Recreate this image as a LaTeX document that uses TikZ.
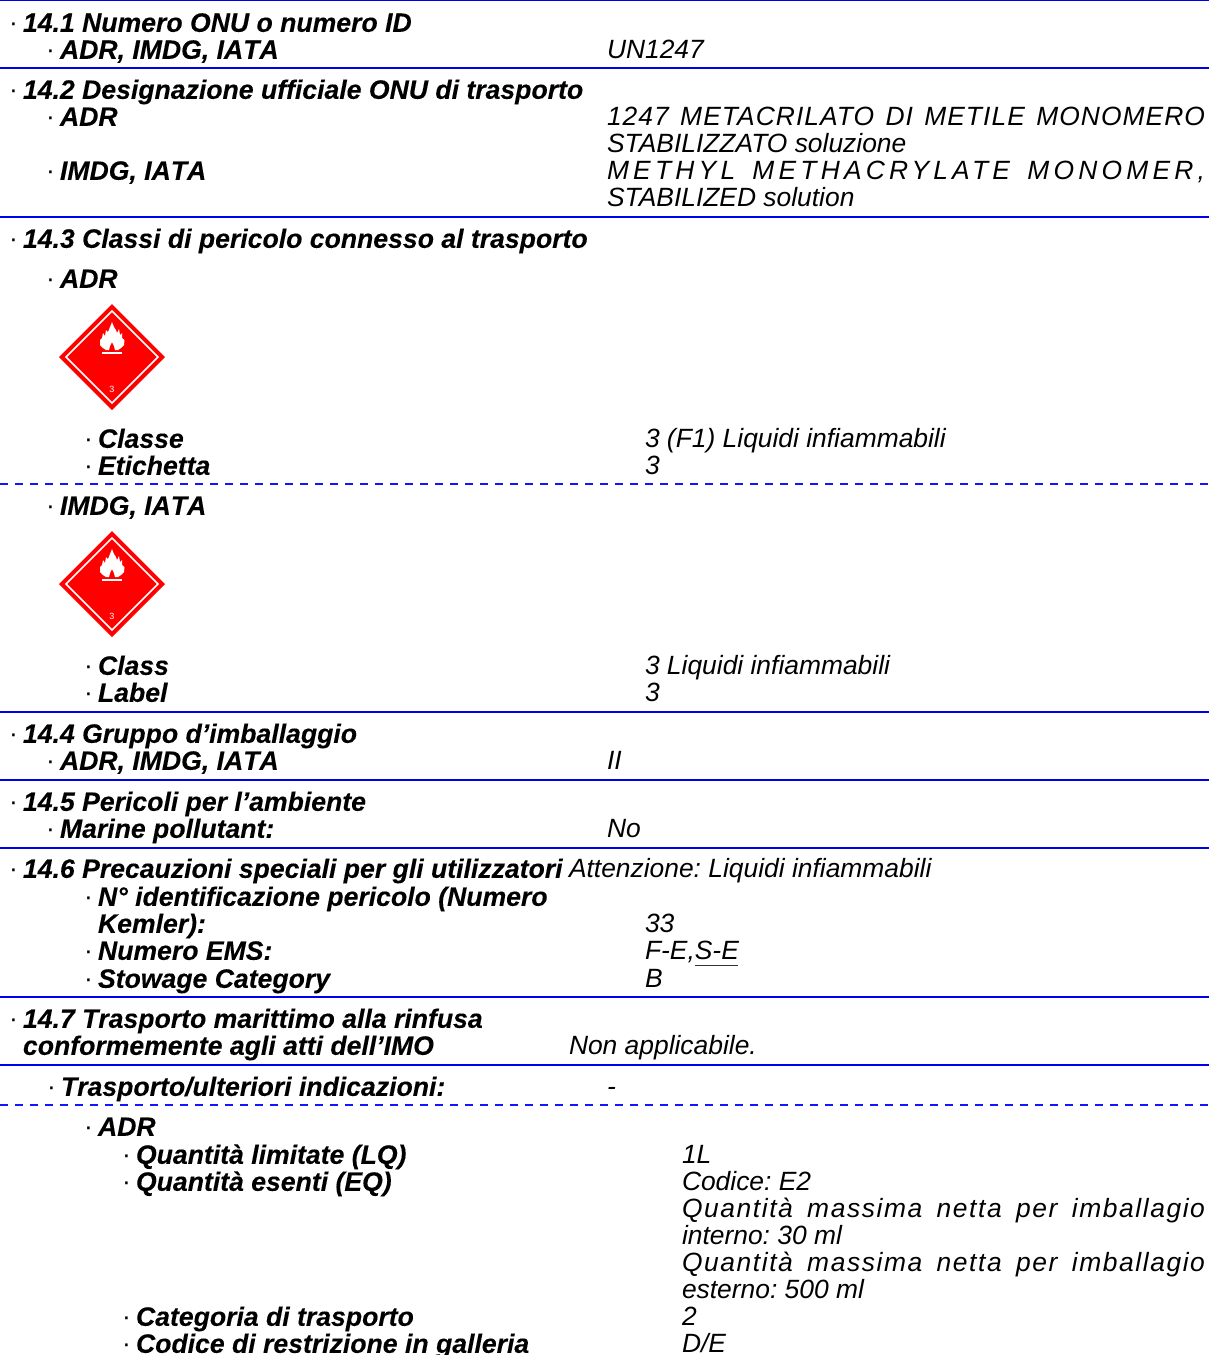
\documentclass[tikz,border=0pt]{standalone}
\usepackage{fontspec}
\setmainfont{Liberation Sans}
\usetikzlibrary{calc}
\definecolor{rule}{RGB}{0,0,235}
\definecolor{dashcol}{RGB}{20,20,255}
\definecolor{plac}{RGB}{255,0,0}
\newcounter{tn}
\newcommand{\fs}{\fontsize{26.4}{27}\selectfont\frenchspacing}
\newcommand{\fb}{\fontsize{26.6}{27}\selectfont\frenchspacing\bfseries\itshape\addfontfeature{FakeBold=0.12,Kerning=Off}}
\tikzset{
  txt/.style={anchor=base west,inner sep=0pt,outer sep=0pt,yshift=-0.8pt},
  solidrule/.style={draw=rule,line width=1.5pt},
  dashrule/.style={draw=dashcol,line width=1.2pt,dash pattern=on 8pt off 7pt},
}
% bold heading with leading dot
\newcommand{\B}[3]{\stepcounter{tn}\node[txt] (t\thetn) at (#1,#2) {\llap{\fs ·\hspace{5pt}}\fb #3};}
% bold, continuation line, no dot
\newcommand{\C}[3]{\stepcounter{tn}\node[txt] (t\thetn) at (#1,#2) {\fb #3};}
% regular italic value
\newcommand{\I}[3]{\stepcounter{tn}\node[txt] (t\thetn) at (#1,#2) {\fs\itshape #3};}
% justified italic: x, y, width, letterspace, text
\newcommand{\J}[5]{\stepcounter{tn}\node[txt] (t\thetn) at (#1,#2) {\fs\itshape\addfontfeature{LetterSpace=#4}\makebox[#3pt][s]{#5}};}
\newcommand{\placard}[2]{%
  \begin{scope}[shift={(#1,#2)}]
    \fill[plac] (-53,0) -- (0,-53) -- (53,0) -- (0,53) -- cycle;
    \draw[white,line width=1.6pt] (-46,0) -- (0,-46) -- (46,0) -- (0,46) -- cycle;
    \fill[white] (0,-35) -- (2,-30) -- (4,-27) -- (5,-24) -- (7,-28) -- (8,-22) -- (10,-24)
      -- (10,-19) -- (12.5,-17) -- (12,-12) -- (9,-9) -- (6,-7) -- (3,-7) -- (2,-11) -- (0,-15)
      -- (-2,-11) -- (-3,-7) -- (-6,-7) -- (-9,-9) -- (-12,-12) -- (-12,-17) -- (-10,-19)
      -- (-9,-24) -- (-7,-21) -- (-6,-27) -- (-4,-25) -- (-2,-30) -- cycle;
    \fill[white] (-10,-5) rectangle (10,-3);
    \stepcounter{tn}\node[inner sep=0pt,text=white] (t\thetn) at (0,32.5) {\fontsize{9}{9}\selectfont 3};
  \end{scope}}
\begin{document}
\begin{tikzpicture}[x=1pt,y=-1pt]
\useasboundingbox (0,0) rectangle (1209,1355);
\fill[white] (0,0) rectangle (1209,1355);
\foreach \y in {0.7,68,217,712,780,848,997,1065} \draw[solidrule] (0,\y) -- (1209,\y);
\foreach \y in {484,1105} \draw[dashrule] (0,\y) -- (1209,\y);
\B{23}{31}{14.1 Numero ONU o numero ID}
\B{60}{58}{ADR, IMDG, IATA}
\I{607}{58}{UN1247}
\B{23}{98}{14.2 Designazione ufficiale ONU di trasporto}
\B{60}{125}{ADR}
\J{607}{125}{598}{4}{1247 METACRILATO DI METILE MONOMERO}
\I{607}{152}{STABILIZZATO soluzione}
\B{60}{179}{IMDG, IATA}
\J{607}{179}{598}{16}{METHYL METHACRYLATE MONOMER,}
\I{607}{206}{STABILIZED solution}
\B{23}{247}{14.3 Classi di pericolo connesso al trasporto}
\B{60}{287}{ADR}
\placard{112}{357}
\B{98}{447}{Classe}
\I{645}{447}{3 (F1) Liquidi infiammabili}
\B{98}{474}{Etichetta}
\I{645}{474}{3}
\B{60}{514}{IMDG, IATA}
\placard{112}{584}
\B{98}{674}{Class}
\I{645}{674}{3 Liquidi infiammabili}
\B{98}{701}{Label}
\I{645}{701}{3}
\B{23}{742}{14.4 Gruppo d’imballaggio}
\B{60}{769}{ADR, IMDG, IATA}
\I{607}{769}{II}
\B{23}{810}{14.5 Pericoli per l’ambiente}
\B{60}{837}{Marine pollutant:}
\I{607}{837}{No}
\B{23}{877}{14.6 Precauzioni speciali per gli utilizzatori}
\I{569}{877}{Attenzione: Liquidi infiammabili}
\B{98}{905}{N° identificazione pericolo (Numero}
\C{98}{932}{Kemler):}
\I{645}{932}{33}
\B{98}{959}{Numero EMS:}
\I{645}{959}{F-E,S-E}
\draw[line width=1pt,black!80] (695,965.5) -- (738,965.5);
\B{98}{987}{Stowage Category}
\I{645}{987}{B}
\B{23}{1027}{14.7 Trasporto marittimo alla rinfusa}
\C{23}{1054}{conformemente agli atti dell’IMO}
\I{569}{1054}{Non applicabile.}
\B{61}{1095}{Trasporto/ulteriori indicazioni:}
\I{607}{1095}{-}
\B{98}{1135}{ADR}
\B{136}{1163}{Quantità limitate (LQ)}
\I{682}{1163}{1L}
\B{136}{1190}{Quantità esenti (EQ)}
\I{682}{1190}{Codice: E2}
\J{682}{1217}{523}{6}{Quantità massima netta per imballagio}
\I{682}{1244}{interno: 30 ml}
\J{682}{1271}{523}{6}{Quantità massima netta per imballagio}
\I{682}{1298}{esterno: 500 ml}
\B{136}{1325}{Categoria di trasporto}
\I{682}{1325}{2}
\B{136}{1352}{Codice di restrizione in galleria}
\I{682}{1352}{D/E}
\end{tikzpicture}
\end{document}
